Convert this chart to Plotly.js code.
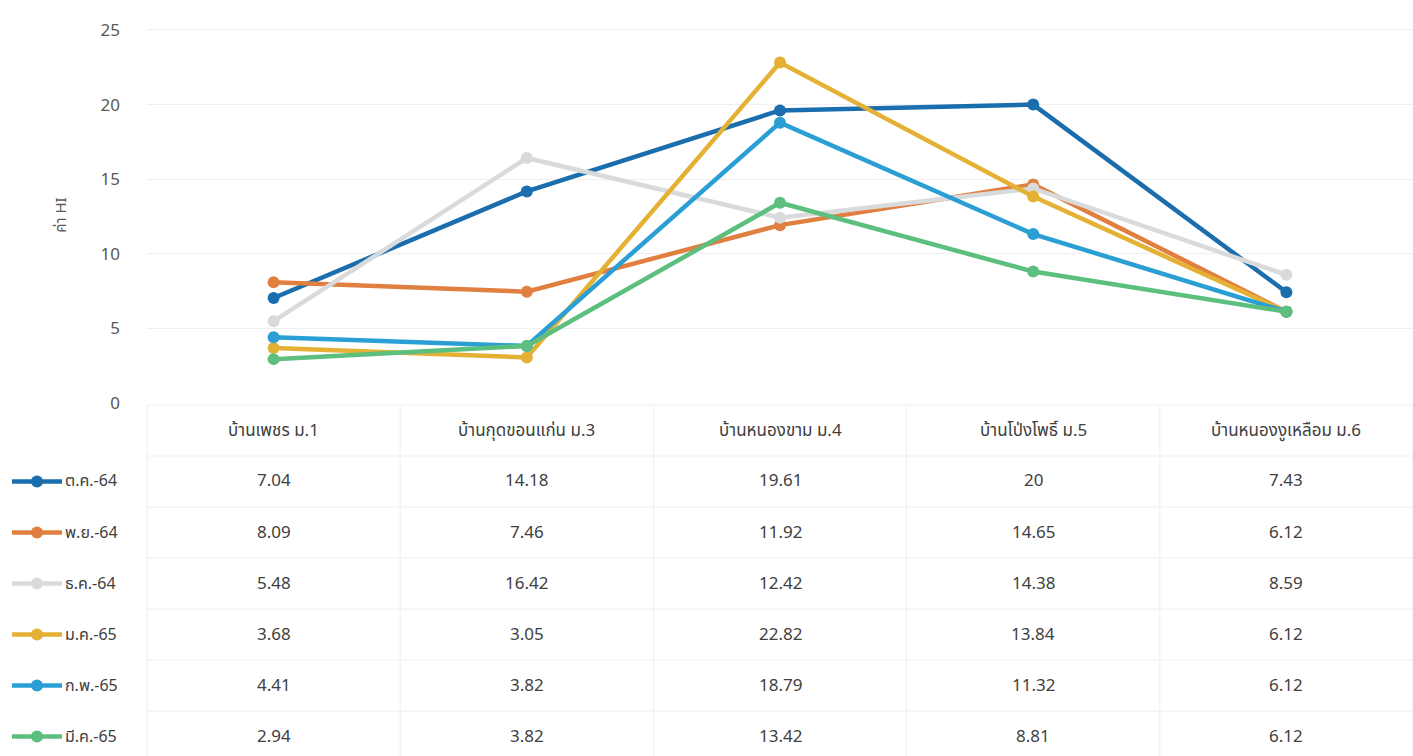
<!DOCTYPE html>
<html>
<head>
<meta charset="utf-8">
<script src="https://cdn.plot.ly/plotly-3.0.1.min.js"></script>
<style>
html,body{margin:0;padding:0;background:#fff;}
#chart{width:1413px;height:756px;}
</style>
</head>
<body>
<div id="chart"></div>
<script>
// ---- data ----
const categories = ["บ้านเพชร ม.1", "บ้านกุดขอนแก่น ม.3", "บ้านหนองขาม ม.4", "บ้านโป่งโพธิ์ ม.5", "บ้านหนองงูเหลือม ม.6"];
const seriesNames = ["ต.ค.-64", "พ.ย.-64", "ธ.ค.-64", "ม.ค.-65", "ก.พ.-65", "มี.ค.-65"];
const octValues = [7.04, 14.18, 19.61, 20, 7.43];
const novValues = [8.09, 7.46, 11.92, 14.65, 6.12];
const decValues = [5.48, 16.42, 12.42, 14.38, 8.59];
const janValues = [3.68, 3.05, 22.82, 13.84, 6.12];
const febValues = [4.41, 3.82, 18.79, 11.32, 6.12];
const marValues = [2.94, 3.82, 13.42, 8.81, 6.12];
const yTickValues = [0, 5, 10, 15, 20, 25];
const yAxisTitle = "ค่า HI";

const allValues = [octValues, novValues, decValues, janValues, febValues, marValues];
const colors = ["#1b6eae", "#e07f40", "#d8dadc", "#e4b135", "#2b9fd4", "#5cbf7e"];

const FONT = "Tahoma, 'Noto Sans Thai', 'Noto Sans', 'DejaVu Sans', sans-serif";
const W = 1413, H = 756;
const plotLeft = 147, plotTop = 27, plotBottom = 403;
const plotH = plotBottom - plotTop, plotW = W - plotLeft;
const px = x => (x - plotLeft) / plotW;     // pixel -> paper x
const py = y => (plotBottom - y) / plotH;   // pixel -> paper y

const traces = seriesNames.map((name, i) => ({
  type: "scatter",
  mode: "lines+markers",
  name: name,
  x: categories,
  y: allValues[i],
  line: {color: colors[i], width: 4.5},
  marker: {color: colors[i], size: 12},
  showlegend: false,
  hoverinfo: "x+y+name"
}));

// ---- data table ----
const shapes = [];
const annotations = [];
const headerTop = 405, rowH = 51;
const colW = plotW / categories.length;
const borderColor = "#eeeeee";
const textColor = "#404040";

shapes.push({type: "line", xref: "paper", yref: "paper", x0: 0, x1: 1, y0: py(headerTop), y1: py(headerTop), line: {color: borderColor, width: 1}});
for (let r = 1; r <= seriesNames.length; r++) {
  const yy = headerTop + r * rowH;
  shapes.push({type: "line", xref: "paper", yref: "paper", x0: 0, x1: 1, y0: py(yy), y1: py(yy), line: {color: borderColor, width: 1}});
}
for (let c = 0; c <= categories.length; c++) {
  const xx = plotLeft + c * colW;
  shapes.push({type: "line", xref: "paper", yref: "paper", x0: px(xx), x1: px(xx), y0: py(headerTop), y1: py(H), line: {color: borderColor, width: 1}});
}
categories.forEach((cat, c) => {
  annotations.push({xref: "paper", yref: "paper", x: px(plotLeft + (c + 0.5) * colW), y: py(headerTop + rowH / 2),
    text: cat, showarrow: false, xanchor: "center", yanchor: "middle",
    font: {family: FONT, size: 17, color: textColor}});
});
seriesNames.forEach((name, r) => {
  const cy = headerTop + (r + 1.5) * rowH;
  shapes.push({type: "line", xref: "paper", yref: "paper", x0: px(12), x1: px(62), y0: py(cy), y1: py(cy), line: {color: colors[r], width: 4.5}});
  shapes.push({type: "circle", xref: "paper", yref: "paper", x0: px(31), x1: px(43), y0: py(cy - 6), y1: py(cy + 6), fillcolor: colors[r], line: {color: colors[r], width: 0}});
  annotations.push({xref: "paper", yref: "paper", x: px(63), y: py(cy), text: name, showarrow: false,
    xanchor: "left", yanchor: "middle", font: {family: FONT, size: 16, color: textColor}});
  allValues[r].forEach((v, c) => {
    annotations.push({xref: "paper", yref: "paper", x: px(plotLeft + (c + 0.5) * colW), y: py(cy),
      text: String(v), showarrow: false, xanchor: "center", yanchor: "middle",
      font: {family: FONT, size: 17, color: textColor}});
  });
});

const layout = {
  width: W, height: H,
  margin: {l: plotLeft, r: 0, t: plotTop, b: H - plotBottom, pad: 0},
  paper_bgcolor: "#ffffff",
  plot_bgcolor: "#ffffff",
  showlegend: false,
  font: {family: FONT, color: "#595959"},
  xaxis: {
    type: "category",
    range: [-0.5, categories.length - 0.5],
    showticklabels: false,
    showgrid: false, zeroline: false, showline: false, ticks: ""
  },
  yaxis: {
    range: [0, 25.2],
    tickvals: yTickValues,
    ticklabelstandoff: 26,
    tickfont: {family: FONT, size: 17, color: "#595959"},
    showgrid: true, gridcolor: "#efefef", gridwidth: 1,
    zeroline: false, showline: false, ticks: "",
    title: {text: yAxisTitle, standoff: 30, font: {family: FONT, size: 15, color: "#595959"}}
  },
  shapes: shapes,
  annotations: annotations
};

Plotly.newPlot("chart", traces, layout, {displayModeBar: false, staticPlot: true});
</script>
</body>
</html>
